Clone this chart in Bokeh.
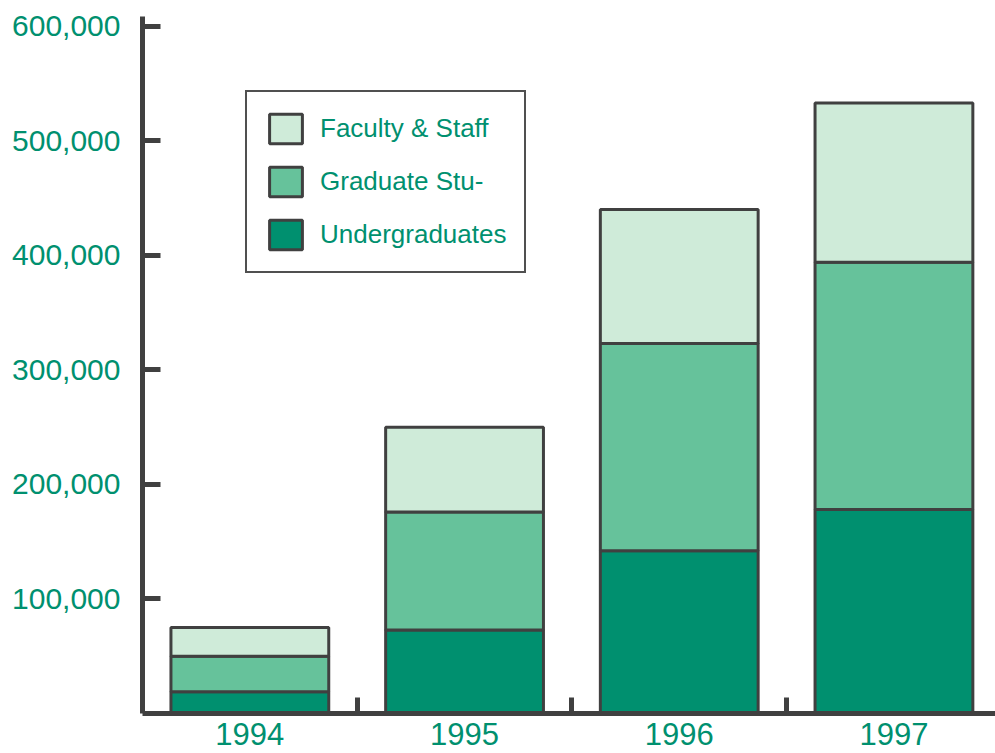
from bokeh.plotting import figure
from bokeh.models import Range1d, FixedTicker, NumeralTickFormatter, Legend, LegendItem, ColumnDataSource
from bokeh.embed import file_html
from bokeh.resources import INLINE

# ---- data ----
years = [1994, 1995, 1996, 1997]
year_labels = ["1994", "1995", "1996", "1997"]
undergraduates = [19000, 73000, 142000, 178000]
graduate_students = [31000, 103000, 181000, 216000]
faculty_staff = [25000, 74000, 117000, 139000]
series_names = ["Undergraduates", "Graduate Stu-", "Faculty & Staff"]
y_ticks = [100000, 200000, 300000, 400000, 500000, 600000]

# ---- style ----
GREEN_TEXT = "#00906f"
COLORS = ["#00906f", "#66c29b", "#cfebd9"]
DARK = "#404040"
FONT = "Liberation Sans"

src = ColumnDataSource(dict(
    year=years,
    Undergraduates=undergraduates,
    Graduate=graduate_students,
    Faculty=faculty_staff,
))

p = figure(
    width=995, height=753,
    x_range=Range1d(1993.5, 1997.473), y_range=Range1d(0, 608500),
    output_backend="svg", toolbar_location=None,
    min_border_left=142, min_border_right=0, min_border_top=16, min_border_bottom=40,
)
p.outline_line_color = None
p.xgrid.visible = False
p.ygrid.visible = False
p.background_fill_color = "white"
p.border_fill_color = "white"

renderers = p.vbar_stack(
    ["Undergraduates", "Graduate", "Faculty"], x="year", width=0.735,
    source=src, fill_color=COLORS, line_color=DARK, line_width=3,
)

# legend (top item first)
items = [LegendItem(label=series_names[i], renderers=[renderers[i]]) for i in (2, 1, 0)]
legend = Legend(
    items=items, location=(103, 440),
    glyph_width=41, glyph_height=37, spacing=16, padding=18, margin=0,
    label_standoff=14, label_text_font=FONT, label_text_font_size="26px",
    label_text_color=GREEN_TEXT, label_height=37,
    border_line_color="#505050", border_line_width=2, border_line_alpha=1,
    background_fill_color="white", background_fill_alpha=1,
)
p.add_layout(legend, "center")

# x axis
xa = p.xaxis[0]
xa.ticker = FixedTicker(ticks=years, minor_ticks=[1994.5, 1995.5, 1996.5])
xa.major_label_overrides = {y: lbl for y, lbl in zip(years, year_labels)}
xa.major_tick_line_color = None
xa.minor_tick_in = 16
xa.minor_tick_out = 0
xa.minor_tick_line_color = DARK
xa.minor_tick_line_width = 5
xa.axis_line_color = DARK
xa.axis_line_width = 5
xa.major_label_text_font = FONT
xa.major_label_text_font_size = "31px"
xa.major_label_text_color = GREEN_TEXT
xa.major_label_standoff = 3

# y axis
ya = p.yaxis[0]
ya.ticker = FixedTicker(ticks=y_ticks, minor_ticks=[])
ya.formatter = NumeralTickFormatter(format="0,0")
ya.major_tick_in = 18
ya.major_tick_out = 0
ya.major_tick_line_color = DARK
ya.major_tick_line_width = 5
ya.axis_line_color = DARK
ya.axis_line_width = 5
ya.major_label_text_font = FONT
ya.major_label_text_font_size = "30px"
ya.major_label_text_color = GREEN_TEXT
ya.major_label_standoff = 22

open("out.html", "w").write(file_html(p, INLINE))
